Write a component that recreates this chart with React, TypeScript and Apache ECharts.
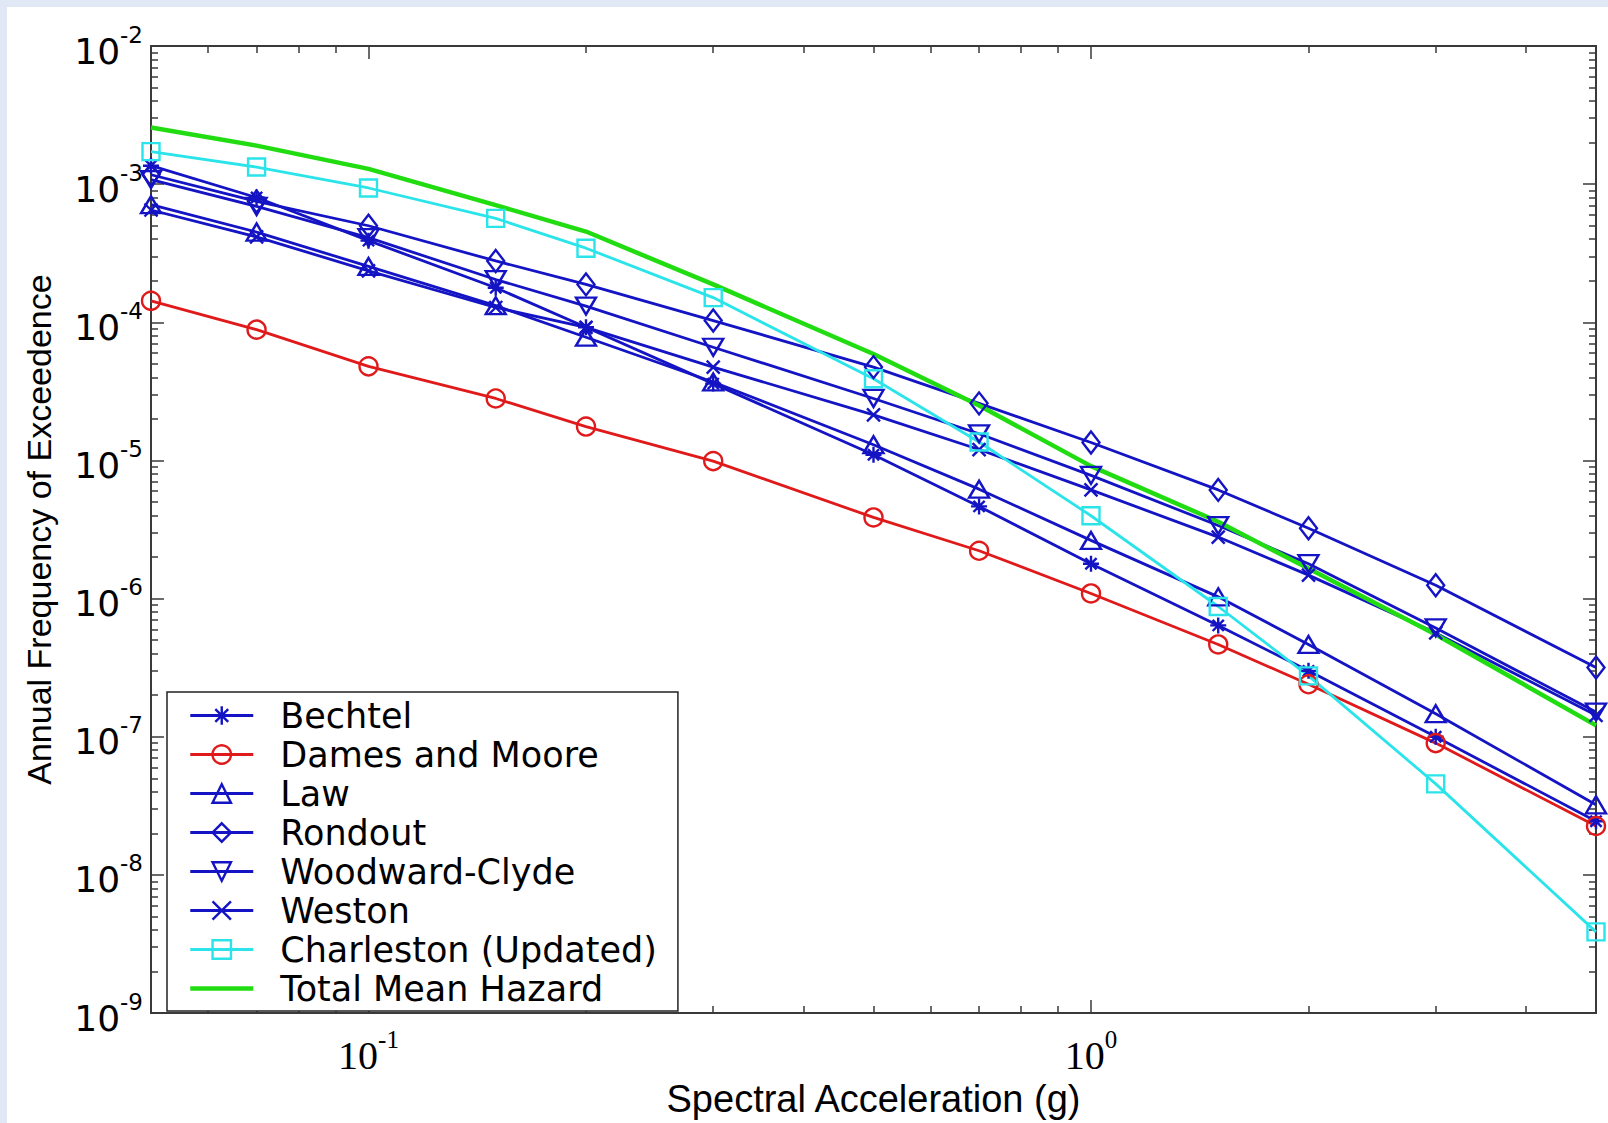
import React, { useEffect, useRef } from "react";
import * as echarts from "echarts";

// Spectral acceleration (g)
const SA = [0.05, 0.07, 0.1, 0.15, 0.2, 0.3, 0.5, 0.7, 1.0, 1.5, 2.0, 3.0, 5.0];

// Annual frequency of exceedence per study
const bechtel = [1.36e-3, 8.0e-4, 3.9e-4, 1.78e-4, 9.2e-5, 3.6e-5, 1.1e-5, 4.65e-6, 1.79e-6, 6.4e-7, 3.0e-7, 1.0e-7, 2.45e-8];
const damesMoore = [1.43e-4, 8.85e-5, 4.8e-5, 2.81e-5, 1.76e-5, 9.9e-6, 3.87e-6, 2.22e-6, 1.09e-6, 4.66e-7, 2.4e-7, 9.0e-8, 2.26e-8];
const law = [7.1e-4, 4.5e-4, 2.54e-4, 1.32e-4, 7.8e-5, 3.7e-5, 1.3e-5, 6.2e-6, 2.64e-6, 1.03e-6, 4.66e-7, 1.47e-7, 3.22e-8];
const rondout = [1.17e-3, 7.5e-4, 5.0e-4, 2.78e-4, 1.88e-4, 1.03e-4, 4.74e-5, 2.59e-5, 1.35e-5, 6.12e-6, 3.23e-6, 1.25e-6, 3.17e-7];
const woodwardClyde = [1.08e-3, 6.9e-4, 4.1e-4, 2.04e-4, 1.31e-4, 6.6e-5, 2.81e-5, 1.56e-5, 7.8e-6, 3.38e-6, 1.79e-6, 6.14e-7, 1.51e-7];
const weston = [6.5e-4, 4.15e-4, 2.36e-4, 1.28e-4, 9.2e-5, 4.74e-5, 2.14e-5, 1.2e-5, 6.12e-6, 2.79e-6, 1.48e-6, 5.65e-7, 1.43e-7];
const charleston = [1.72e-3, 1.33e-3, 9.38e-4, 5.65e-4, 3.44e-4, 1.51e-4, 3.9e-5, 1.36e-5, 3.98e-6, 8.77e-7, 2.76e-7, 4.56e-8, 3.87e-9];
const totalMean = [2.57e-3, 1.9e-3, 1.29e-3, 7.05e-4, 4.54e-4, 1.88e-4, 5.9e-5, 2.5e-5, 9.1e-6, 3.6e-6, 1.65e-6, 5.5e-7, 1.21e-7];

// Axis ranges and ticks
const X_MIN = 0.05;
const X_MAX = 5;
const Y_MIN = 1e-9;
const Y_MAX = 1e-2;
const X_MAJOR = [0.1, 1];
const X_MINOR = [0.06, 0.07, 0.08, 0.09, 0.2, 0.3, 0.4, 0.5, 0.6, 0.7, 0.8, 0.9, 2, 3, 4];
const Y_MAJOR_EXP = [-9, -8, -7, -6, -5, -4, -3, -2];
const Y_MINOR_MULT = [2, 3, 4, 5, 6, 7, 8, 9];

const BLUE = "#1414c4";
const RED = "#e01a1a";
const CYAN = "#2ae4ea";
const GREEN = "#22dc12";
const AXIS = "#3a3a3a";

const SYM_STAR = "path://M5,0L5,10M0,5L10,5M1.5,1.5L8.5,8.5M8.5,1.5L1.5,8.5";
const SYM_X = "path://M0,0L10,10M10,0L0,10";
const SYM_TRI_DOWN = "path://M0,0L10,0L5,9Z";
const SYM_TRI_UP = "path://M5,0L10,9L0,9Z";

const lg = (v: number) => Math.log10(v);

function markerSeries(name: string, values: number[], color: string, symbol: string, size: any) {
  return {
    name,
    type: "line",
    xAxisIndex: 0,
    yAxisIndex: 0,
    data: SA.map((x, i) => [x, values[i]]),
    symbol,
    symbolSize: size,
    showSymbol: true,
    clip: false,
    silent: true,
    lineStyle: { color, width: 2.8 },
    itemStyle: { color: "rgba(0,0,0,0)", borderColor: color, borderWidth: 2.4 },
  };
}

function tickAxis(position: string, min: number, max: number, values: number[], length: number, extra: any = {}) {
  return {
    type: "value",
    position,
    min,
    max,
    axisLine: { show: false, onZero: false },
    splitLine: { show: false },
    axisTick: { show: true, inside: true, length, customValues: values, lineStyle: { color: AXIS, width: 1.5 } },
    axisLabel: { show: false },
    ...extra,
  };
}

export default function App() {
  const ref = useRef<HTMLDivElement>(null);
  useEffect(() => {
    const chart = echarts.init(ref.current!, null, { renderer: "svg" });

    const xMinL = lg(X_MIN);
    const xMaxL = lg(X_MAX);
    const yMinL = lg(Y_MIN);
    const yMaxL = lg(Y_MAX);
    const xMajorL = X_MAJOR.map(lg);
    const xMinorL = X_MINOR.map(lg);
    const yMinorL: number[] = [];
    Y_MAJOR_EXP.slice(0, -1).forEach((e) => Y_MINOR_MULT.forEach((m) => yMinorL.push(lg(m) + e)));

    const supFmt = (v: number) => `{b|10}{s|${Math.round(v)}}`;

    const option: any = {
      animation: false,
      backgroundColor: "#ffffff",
      grid: { left: 144, top: 39, right: 12, bottom: 101, show: true, borderColor: AXIS, borderWidth: 2, backgroundColor: "#ffffff" },
      xAxis: [
        { type: "log", logBase: 10, min: X_MIN, max: X_MAX, show: false, position: "bottom", axisLine: { onZero: false } },
        tickAxis("bottom", xMinL, xMaxL, xMajorL, 13, {
          name: "Spectral Acceleration (g)",
          nameLocation: "middle",
          nameGap: 60,
          nameTextStyle: { fontFamily: "Liberation Sans", fontSize: 38, color: "#000" },
          axisLabel: {
            show: true,
            customValues: xMajorL,
            margin: 14,
            formatter: supFmt,
            rich: {
              b: { fontFamily: "Liberation Sans Narrow", fontSize: 40, lineHeight: 48, color: "#000", verticalAlign: "bottom" },
              s: { fontFamily: "Liberation Sans Narrow", fontSize: 25, lineHeight: 26, color: "#000", verticalAlign: "top" },
            },
          },
        }),
        tickAxis("bottom", xMinL, xMaxL, xMinorL, 7),
        tickAxis("top", xMinL, xMaxL, xMajorL, 13),
        tickAxis("top", xMinL, xMaxL, xMinorL, 7),
      ],
      yAxis: [
        { type: "log", logBase: 10, min: Y_MIN, max: Y_MAX, show: false, position: "left", axisLine: { onZero: false } },
        tickAxis("left", yMinL, yMaxL, Y_MAJOR_EXP, 13, {
          name: "Annual Frequency of Exceedence",
          nameLocation: "middle",
          nameGap: 95,
          nameRotate: 90,
          nameTextStyle: { fontFamily: "Liberation Sans", fontSize: 34, color: "#000" },
          axisLabel: {
            show: true,
            customValues: Y_MAJOR_EXP,
            margin: 8,
            formatter: supFmt,
            rich: {
              b: { fontFamily: "DejaVu Sans", fontSize: 36, lineHeight: 46, color: "#000", verticalAlign: "bottom" },
              s: { fontFamily: "DejaVu Sans", fontSize: 23, lineHeight: 24, color: "#000", verticalAlign: "top" },
            },
          },
        }),
        tickAxis("left", yMinL, yMaxL, yMinorL, 7),
        tickAxis("right", yMinL, yMaxL, Y_MAJOR_EXP, 13),
        tickAxis("right", yMinL, yMaxL, yMinorL, 7),
      ],
      legend: {
        orient: "vertical",
        left: 160,
        top: 685,
        padding: [4, 21, 3, 21],
        itemWidth: 63,
        itemHeight: 23,
        itemGap: 0,
        selectedMode: false,
        backgroundColor: "#ffffff",
        borderColor: "#222",
        borderWidth: 1.5,
        lineStyle: { width: "inherit" },
        itemStyle: { borderWidth: "inherit" },
        textStyle: { fontFamily: "DejaVu Sans", fontSize: 35, color: "#000", lineHeight: 39, padding: [0, 0, 0, 22] },
        data: ["Bechtel", "Dames and Moore", "Law", "Rondout", "Woodward-Clyde", "Weston", "Charleston (Updated)", "Total Mean Hazard"],
      },
      series: [
        markerSeries("Bechtel", bechtel, BLUE, SYM_STAR, 16),
        markerSeries("Dames and Moore", damesMoore, RED, "circle", 18),
        markerSeries("Law", law, BLUE, SYM_TRI_UP, [20, 17]),
        markerSeries("Rondout", rondout, BLUE, "diamond", [17, 22]),
        markerSeries("Woodward-Clyde", woodwardClyde, BLUE, SYM_TRI_DOWN, [20, 17]),
        markerSeries("Weston", weston, BLUE, SYM_X, 13),
        markerSeries("Charleston (Updated)", charleston, CYAN, "rect", 17),
        {
          name: "Total Mean Hazard",
          type: "line",
          xAxisIndex: 0,
          yAxisIndex: 0,
          data: SA.map((x, i) => [x, totalMean[i]]),
          symbol: "none",
          clip: false,
          silent: true,
          lineStyle: { color: GREEN, width: 4.5 },
          itemStyle: { color: "rgba(0,0,0,0)", borderColor: "rgba(0,0,0,0)", borderWidth: 0 },
        },
      ],
    };

    chart.setOption(option);
    return () => chart.dispose();
  }, []);

  return (
    <div style={{ position: "fixed", left: 0, top: 0, width: 1608, height: 1123, background: "#dfe8f4", overflow: "hidden" }}>
      <div ref={ref} style={{ position: "absolute", left: 7, top: 7, width: 1601, height: 1116, background: "#ffffff" }} />
    </div>
  );
}
